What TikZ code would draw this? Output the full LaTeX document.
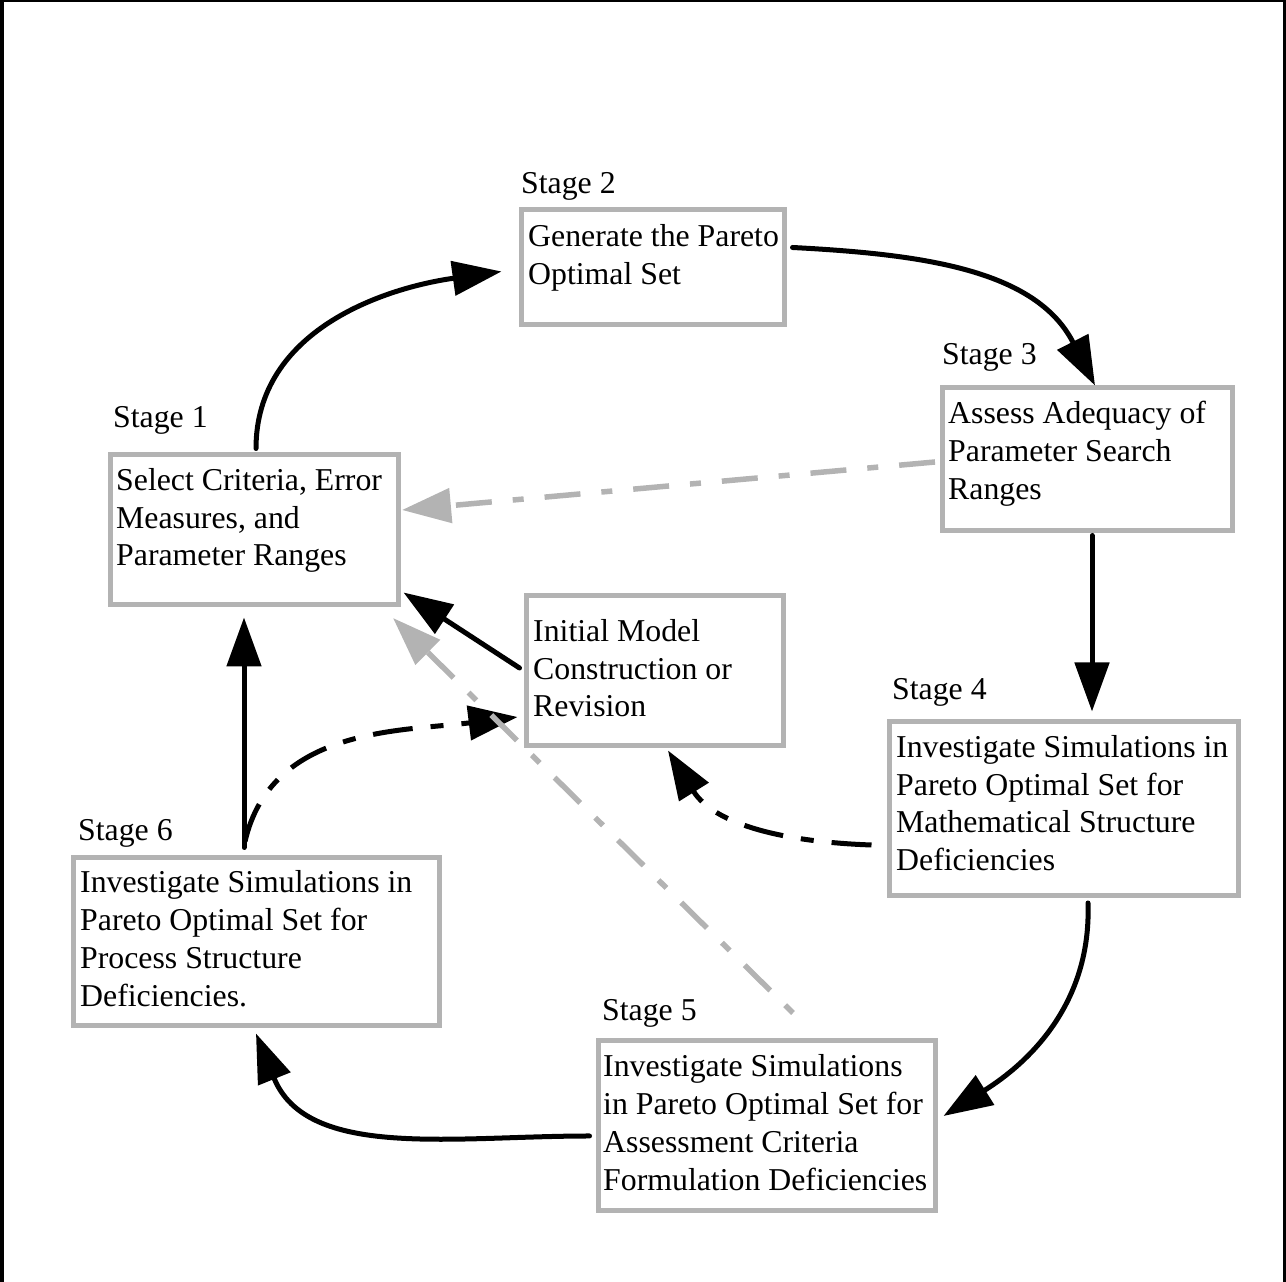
\documentclass[tikz,border=0pt]{standalone}
\usepackage{fontspec}
\setmainfont{Liberation Serif}
\usepackage{tikz}
\usetikzlibrary{positioning,arrows.meta,calc}
\definecolor{gris}{HTML}{B3B3B3}
\tikzset{
  caja/.style={draw=gris,line width=5pt,anchor=north west,inner sep=0pt},
  texto/.style={anchor=north west,align=left,inner sep=0pt,font=\fontsize{31.8}{37.8}\selectfont},
  etapa/.style={anchor=west,inner sep=0pt,font=\fontsize{31.8}{37.8}\selectfont},
  flecha/.style={-{Triangle[length=49pt,width=34pt]},line width=5pt,line cap=round,black},
  flechad/.style={-{Triangle[length=49pt,width=34pt]},line width=5pt,black,dash pattern=on 40pt off 18pt on 13pt off 18pt},
  flechag/.style={-{Triangle[length=49pt,width=34pt]},line width=5.5pt,gris,dash pattern=on 36pt off 21pt on 11pt off 21pt},
}
\begin{document}
\begin{tikzpicture}[x=1pt,y=1pt]
  \useasboundingbox (0,0) rectangle (1286,1282);
  \draw[line width=4pt] (2,0) -- (2,1281.5) -- (1285,1281.5) -- (1285,0);
  % cajas
  \node[caja,minimum width=288,minimum height=150] (e1) at (107.5,829.5) {};
  \node[caja,minimum width=263,minimum height=115] (e2) at (518.5,1074.5) {};
  \node[caja,minimum width=290,minimum height=143] (e3) at (939.5,896.5) {};
  \node[caja,minimum width=257,minimum height=150] (e0) at (523.5,688.5) {};
  \node[caja,minimum width=349,minimum height=174] (e4) at (886.5,562.5) {};
  \node[caja,minimum width=366,minimum height=168] (e6) at (70.5,426.5) {};
  \node[caja,minimum width=337,minimum height=170] (e5) at (595.5,243.5) {};
  \node[texto,below right=15.5pt and 8.5pt of e1.north west] (t1) {Select Criteria, Error\\Measures, and\\Parameter Ranges};
  \node[texto,below right=16.5pt and 9.5pt of e2.north west] (t2) {Generate the Pareto\\Optimal Set};
  \node[texto,below right=15.5pt and 8.5pt of e3.north west] (t3) {Assess Adequacy of\\Parameter Search\\Ranges};
  \node[texto,below right=25.5pt and 9.5pt of e0.north west] (t0) {Initial Model\\Construction or\\Revision};
  \node[texto,below right=15.5pt and 9.5pt of e4.north west] (t4) {Investigate Simulations in\\Pareto Optimal Set for\\Mathematical Structure\\Deficiencies};
  \node[texto,below right=15pt and 9.5pt of e6.north west] (t6) {Investigate Simulations in\\Pareto Optimal Set for\\Process Structure\\Deficiencies.};
  \node[texto,below right=16pt and 7.5pt of e5.north west] (t5) {Investigate Simulations\\in Pareto Optimal Set for\\Assessment Criteria\\Formulation Deficiencies};
  \node[etapa] (l1) at (113,862) {Stage 1};
  \node[etapa] (l2) at (521,1096) {Stage 2};
  \node[etapa] (l3) at (942,925) {Stage 3};
  \node[etapa] (l4) at (892,590) {Stage 4};
  \node[etapa] (l5) at (602,269) {Stage 5};
  \node[etapa] (l6) at (78,449) {Stage 6};
  % ciclo
  \draw[flecha] ([shift={(2,4)}]e1.north) to[out=90,in=188] ([shift={(-17,-4)}]e2.west);
  \draw[flecha] ([shift={(6,20)}]e2.east) to[out=-3,in=117] ([xshift=8pt]e3.north);
  \draw[flecha] ([shift={(5,-2)}]e3.south) -- ($(e3.south |- e4.north)+(5,8)$);
  \draw[flecha] ([shift={(24.5,-4.5)}]e4.south) to[out=-88,in=32] ([shift={(6,10)}]e5.east);
  \draw[flecha] ([shift={(-6,-10)}]e5.west) to[out=180,in=-68] ([yshift=-5pt]e6.south);
  \draw[flecha] ([shift={(-12,8)}]e6.north) -- ($(e6.north |- e1.south)+(-12,-10)$);
  \draw[flecha] ([shift={(-4,3)}]e0.west) -- ([shift={(3,15)}]e1.south east);
  % revision
  \draw[flechad] ([shift={(-15,-36)}]e4.west) to[out=178,in=-58] ([shift={(13.5,-2)}]e0.south);
  \draw[flechad] ([shift={(-11,14)}]e6.north) to[out=77,in=187] ([shift={(-6,-46)}]e0.west);
  \draw[flechag] ([shift={(-4.5,-2.5)}]e3.west) -- ([shift={(1.5,20)}]e1.east);
  \draw[flechag,dash phase=57pt] ([shift={(26.5,25.5)}]e5.north) -- ([shift={(-7.5,-10.5)}]e1.south east);
\end{tikzpicture}
\end{document}
